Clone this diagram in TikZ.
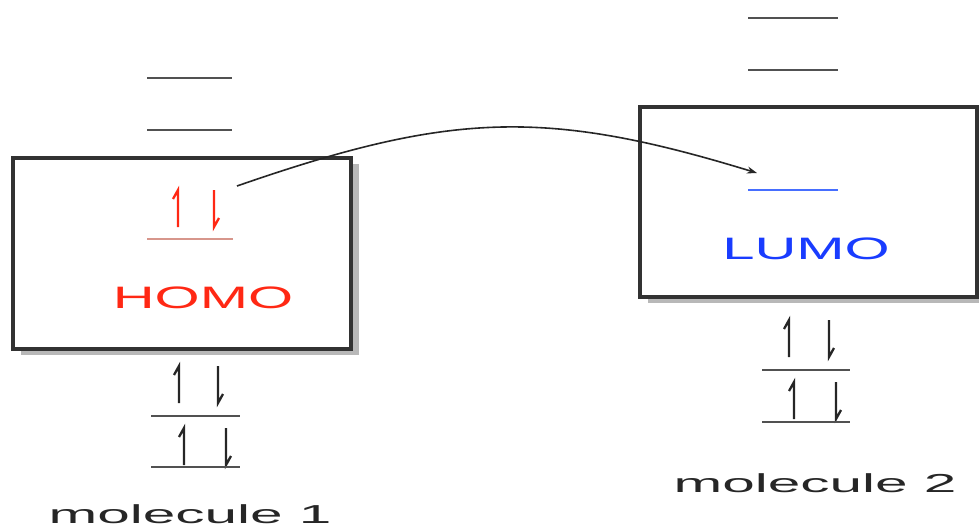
\documentclass[tikz,border=0pt]{standalone}
\usepackage{fontspec}
\setmainfont{Liberation Sans}
\usetikzlibrary{arrows.meta,shadows}
\definecolor{homored}{RGB}{255,40,20}
\definecolor{homoline}{RGB}{215,150,140}
\definecolor{lumoblue}{RGB}{25,60,255}
\definecolor{lumoline}{RGB}{70,110,255}
\definecolor{edge}{RGB}{50,50,50}
\tikzset{
  x=1pt, y=-1pt,
  molbox/.style={draw=edge, line width=3.4pt, fill=white, rectangle, inner sep=0pt,
    drop shadow={shadow xshift=8pt, shadow yshift=-6pt, fill=black!28, opacity=1}},
  level/.style={draw=edge!85, line width=2.2pt},
  spin/.style={draw=black!85, line width=2.3pt},
  label/.style={font=\fontsize{31}{31}\selectfont, inner sep=0pt, xscale=1.87},
  molname/.style={font=\fontsize{26}{26}\selectfont, inner sep=0pt, xscale=2.25, text=black!85},
  transfer/.style={draw=black!85, line width=1.6pt, -{Stealth[length=10pt,width=7pt]}}
}
\newcommand{\upspin}[3]{\draw[spin,#3] (#1,#2) -- (#1,#2-37) -- ++(-5,9);}
\newcommand{\downspin}[3]{\draw[spin,#3] (#1,#2-37) -- (#1,#2) -- ++(5,-9);}
\begin{document}
\begin{tikzpicture}
\useasboundingbox (0,0) rectangle (979,528);
% boxes
\node[molbox, minimum width=338pt, minimum height=191pt] (box1) at (182,253.5) {};
\node[molbox, minimum width=337pt, minimum height=190pt] (box2) at (808.5,202) {};
% molecule 1 upper levels
\coordinate (m1a) at (147,78); \coordinate (m1b) at (232,78);
\coordinate (m1c) at (147,130); \coordinate (m1d) at (232,130);
\draw[level] (m1a) -- (m1b);
\draw[level] (m1c) -- (m1d);
% HOMO
\coordinate (h1) at (147,239); \coordinate (h2) at (233,239);
\draw[line width=2.2pt, homoline] (h1) -- (h2);
\upspin{178}{227}{draw=homored}
\downspin{214}{227}{draw=homored}
\node[label, text=homored] (homo) at (203,298) {HOMO};
% molecule 1 lower levels
\upspin{179}{403}{}
\downspin{218}{403}{}
\coordinate (l1a) at (151,416); \coordinate (l1b) at (240,416);
\draw[level] (l1a) -- (l1b);
\upspin{184}{465}{}
\downspin{226}{465}{}
\coordinate (l1c) at (151,467); \coordinate (l1d) at (240,467);
\draw[level] (l1c) -- (l1d);
\node[molname] (mol1) at (190,514) {molecule 1};
% molecule 2 upper levels
\coordinate (m2a) at (748,18); \coordinate (m2b) at (838,18);
\coordinate (m2c) at (748,70); \coordinate (m2d) at (838,70);
\draw[level] (m2a) -- (m2b);
\draw[level] (m2c) -- (m2d);
% LUMO
\coordinate (u1) at (748,190); \coordinate (u2) at (838,190);
\draw[line width=2pt, lumoline] (u1) -- (u2);
\node[label, text=lumoblue] (lumo) at (806,249) {LUMO};
% molecule 2 lower levels
\upspin{789}{357}{}
\downspin{829}{357}{}
\coordinate (l2a) at (762,370); \coordinate (l2b) at (850,370);
\draw[level] (l2a) -- (l2b);
\upspin{794}{419}{}
\downspin{836}{419}{}
\coordinate (l2c) at (762,422); \coordinate (l2d) at (850,422);
\draw[level] (l2c) -- (l2d);
\node[molname] (mol2) at (815,483) {molecule 2};
% transfer arrow
\coordinate (src) at (237,186);
\coordinate (dst) at (757,173);
\draw[transfer] (src) .. controls (450,112) and (545,108) .. (dst);
\end{tikzpicture}
\end{document}
